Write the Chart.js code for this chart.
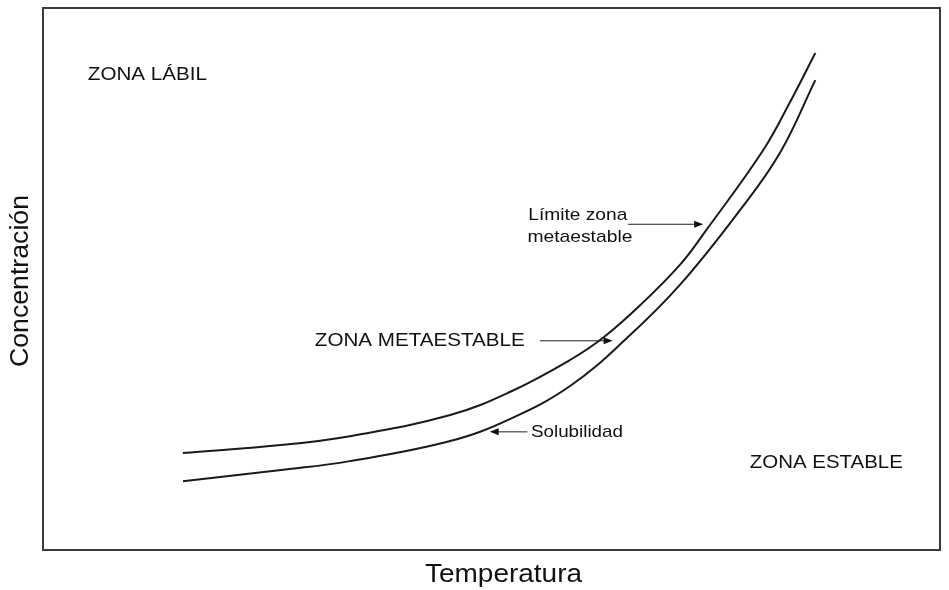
<!DOCTYPE html>
<html>
<head>
<meta charset="utf-8">
<script src="https://cdn.jsdelivr.net/npm/chart.js@4.4.1/dist/chart.umd.min.js"></script>
<style>
html,body{margin:0;padding:0;background:#fff;}
#wrap{width:949px;height:590px;position:relative;}
</style>
</head>
<body>
<div id="wrap"><canvas id="c" width="949" height="590"></canvas></div>
<script>
// Curve: Límite zona metaestable (temperature, concentration)
const limiteT = [15.6, 26.8, 34.2, 45.4, 52.1, 58.8, 62.4, 66.6, 71.0, 73.8, 80.3, 83.3, 86.1];
const limiteC = [17.9, 19.4, 21.0, 24.9, 29.2, 35.1, 39.1, 45.2, 52.6, 58.7, 73.8, 82.7, 91.7];
// Curve: Solubilidad
const solubT = [15.6, 26.8, 34.2, 45.4, 52.1, 58.8, 65.1, 71.0, 77.7, 82.2, 86.1];
const solubC = [12.7, 14.8, 16.4, 20.1, 24.2, 30.3, 39.1, 48.9, 62.7, 73.4, 86.7];

// Text labels placed in data coordinates
const labelTexts = ["ZONA LÁBIL", "Límite zona", "metaestable", "ZONA METAESTABLE", "Solubilidad", "ZONA ESTABLE"];
const labelT = [5.0, 54.1, 54.0, 30.3, 54.4, 78.8];
const labelC = [87.6, 61.8, 57.7, 38.6, 21.8, 16.1];

// Arrows: start (T,C) -> end (T,C)
const arrowT0 = [65.2, 55.4, 54.0];
const arrowT1 = [73.6, 63.5, 49.8];
const arrowC = [60.1, 38.6, 21.8];

const xTitle = "Temperatura";
const yTitle = "Concentración";

function pts(xs, ys){ return xs.map((x,i)=>({x:x, y:ys[i]})); }

const labelWidths = [119, 99, 105, 210, 92, 153];
const labelSizes = [19, 17, 17, 19, 17, 19];

const overlay = {
  id: 'overlay',
  afterDatasetsDraw(chart){
    const ctx = chart.ctx, ca = chart.chartArea;
    const xs = chart.scales.x, ys = chart.scales.y;
    ctx.save();
    // frame
    ctx.strokeStyle = '#3a3a3a';
    ctx.lineWidth = 2;
    ctx.strokeRect(ca.left, ca.top, ca.right - ca.left, ca.bottom - ca.top);
    // labels
    ctx.fillStyle = '#111';
    ctx.textBaseline = 'middle';
    ctx.textAlign = 'left';
    labelTexts.forEach((t,i)=>{
      const px = xs.getPixelForValue(labelT[i]);
      const py = ys.getPixelForValue(labelC[i]);
      ctx.font = labelSizes[i] + 'px "Liberation Sans", Arial, sans-serif';
      const w = ctx.measureText(t).width;
      const s = labelWidths[i] / w;
      ctx.save();
      ctx.translate(px, py);
      ctx.scale(s, 1);
      ctx.fillText(t, 0, 0);
      ctx.restore();
    });
    // arrows
    ctx.strokeStyle = '#222';
    ctx.fillStyle = '#111';
    ctx.lineWidth = 1;
    arrowT0.forEach((t0,i)=>{
      const x0 = xs.getPixelForValue(t0), x1 = xs.getPixelForValue(arrowT1[i]);
      const y = ys.getPixelForValue(arrowC[i]);
      const dir = Math.sign(x1 - x0);
      ctx.beginPath();
      ctx.moveTo(x0, y); ctx.lineTo(x1 - dir*6, y); ctx.stroke();
      ctx.beginPath();
      ctx.moveTo(x1, y); ctx.lineTo(x1 - dir*9, y - 3.5); ctx.lineTo(x1 - dir*9, y + 3.5); ctx.closePath(); ctx.fill();
    });
    // axis titles
    ctx.fillStyle = '#111';
    ctx.font = '25px "Liberation Sans", Arial, sans-serif';
    ctx.textAlign = 'center';
    ctx.textBaseline = 'middle';
    let w = ctx.measureText(xTitle).width;
    ctx.save();
    ctx.translate((ca.left + ca.right)/2 + 12, ca.bottom + 25);
    ctx.scale(157 / w, 1);
    ctx.fillText(xTitle, 0, 0);
    ctx.restore();
    w = ctx.measureText(yTitle).width;
    ctx.save();
    ctx.translate(21, (ca.top + ca.bottom)/2 + 2);
    ctx.rotate(-Math.PI/2);
    ctx.scale(172 / w, 1);
    ctx.fillText(yTitle, 0, 0);
    ctx.restore();
    ctx.restore();
  }
};

new Chart(document.getElementById('c'), {
  type: 'scatter',
  data: {
    datasets: [
      { label: 'Límite zona metaestable', data: pts(limiteT, limiteC), showLine: true, borderColor: '#1a1a1a', borderWidth: 2, pointRadius: 0, tension: 0.4, fill: false },
      { label: 'Solubilidad', data: pts(solubT, solubC), showLine: true, borderColor: '#1a1a1a', borderWidth: 2, pointRadius: 0, tension: 0.4, fill: false }
    ]
  },
  options: {
    responsive: false,
    animation: false,
    layout: { padding: { left: 43, right: 9, top: 8, bottom: 40 } },
    plugins: { legend: { display: false }, tooltip: { enabled: false } },
    scales: {
      x: { type: 'linear', min: 0, max: 100, display: false },
      y: { type: 'linear', min: 0, max: 100, display: false }
    }
  },
  plugins: [overlay]
});
</script>
</body>
</html>
